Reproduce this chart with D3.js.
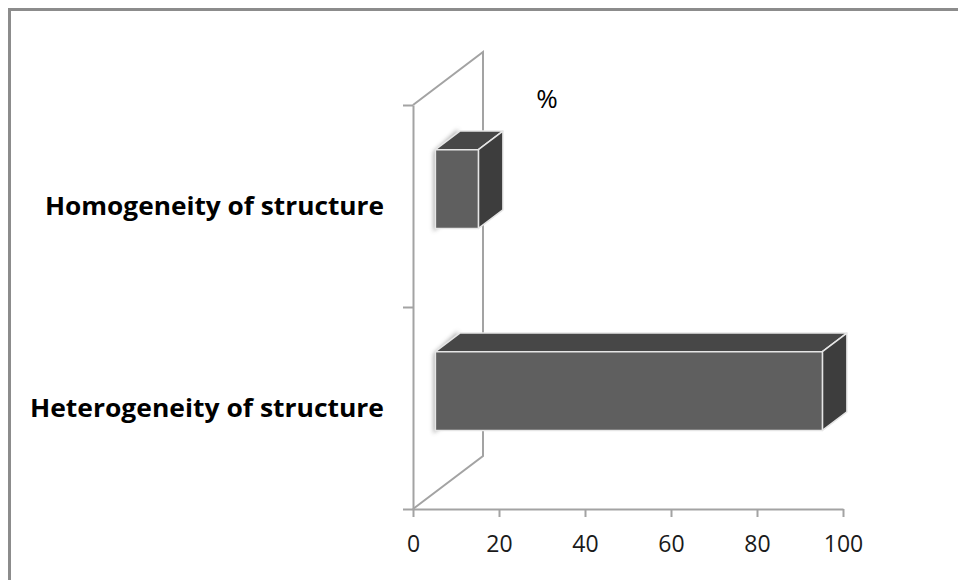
<!DOCTYPE html>
<html>
<head>
<meta charset="utf-8">
<script src="https://cdn.jsdelivr.net/npm/d3@7/dist/d3.min.js"></script>
<style>
  html, body { margin: 0; padding: 0; background: #fff; }
  svg { display: block; }
</style>
</head>
<body>
<svg id="chart" width="958" height="580"></svg>
<script>
// Categories listed top to bottom, with their percentages
const categories = ["Homogeneity of structure", "Heterogeneity of structure"];
const values = [10, 90];
const tickValues = [0, 20, 40, 60, 80, 100];
const unitLabel = "%";

const svg = d3.select("#chart");
const W = 958, H = 580;
const font = "'Open Sans', 'Noto Sans', sans-serif";

// Front plane of the plot and the oblique depth vector of the 3-D box
const plot = { left: 413, right: 843, top: 105, bottom: 509 };
const depth = { dx: 70, dy: -53 };
const barDepth = [0.32, 0.67];   // fraction of the full depth occupied by the bars

const x = d3.scaleLinear().domain([0, 100]).range([plot.left, plot.right]);
const y = d3.scaleBand().domain(categories)
  .range([plot.top, plot.bottom])
  .paddingInner(0.61).paddingOuter(0.305);
const yTicks = d3.scaleLinear().domain([0, categories.length]).range([plot.bottom, plot.top]);

// Outer frame (top and left edges)
svg.append("path")
  .attr("d", `M9.5,${H} L9.5,9.5 L${W},9.5`)
  .attr("fill", "none").attr("stroke", "#8c8c8c").attr("stroke-width", 3);

const defs = svg.append("defs");
defs.append("filter").attr("id", "soft")
  .attr("x", "-50%").attr("y", "-50%").attr("width", "200%").attr("height", "200%")
  .append("feGaussianBlur").attr("stdDeviation", 2.2);

const axisColor = "#a3a3a3";

// Side wall of the 3-D box
const wall = svg.append("g").attr("fill", "none").attr("stroke", axisColor).attr("stroke-width", 2);
wall.append("path").attr("d",
  `M${plot.left},${plot.top} L${plot.left + depth.dx},${plot.top + depth.dy}` +
  ` L${plot.left + depth.dx},${plot.bottom + depth.dy} L${plot.left},${plot.bottom}`);

// Category axis with ticks at band boundaries
svg.append("g")
  .attr("transform", `translate(${plot.left},0)`)
  .call(d3.axisLeft(yTicks).tickValues(d3.range(categories.length + 1)).tickFormat("")
    .tickSize(10).tickSizeOuter(0))
  .call(g => g.selectAll("path, line").attr("stroke", axisColor).attr("stroke-width", 2));

// Value axis
svg.append("g")
  .attr("transform", `translate(0,${plot.bottom})`)
  .call(d3.axisBottom(x).tickValues(tickValues).tickSize(8).tickSizeOuter(0).tickPadding(19))
  .call(g => g.selectAll("path, line").attr("stroke", axisColor).attr("stroke-width", 2))
  .call(g => g.selectAll("text").attr("fill", "#1a1a1a")
    .attr("font-family", font).attr("font-size", 23));

// Bars as oblique boxes
const bars = svg.append("g");
categories.forEach((c, i) => {
  const ox = depth.dx * barDepth[0], oy = depth.dy * barDepth[0];
  const bx = depth.dx * (barDepth[1] - barDepth[0]), by = depth.dy * (barDepth[1] - barDepth[0]);
  const x0 = x(0) + ox, x1 = x(values[i]) + ox;
  const y0 = y(c) + oy, y1 = y(c) + y.bandwidth() + oy;

  // soft shade where the bar meets the wall
  bars.append("path")
    .attr("d", `M${x0 - 2},${y0 + 2} L${x0 + bx - 2},${y0 + by - 2} L${x0 + bx},${y1 + by} L${x0 - 2},${y1 + 3} Z`)
    .attr("fill", "#a8a8a8").attr("filter", "url(#soft)").attr("opacity", 0.9);

  const g = bars.append("g").attr("stroke", "#e6e6e6").attr("stroke-width", 1.5)
    .attr("stroke-linejoin", "round");
  // top face
  g.append("path")
    .attr("d", `M${x0},${y0} L${x0 + bx},${y0 + by} L${x1 + bx},${y0 + by} L${x1},${y0} Z`)
    .attr("fill", "#474747");
  // right face
  g.append("path")
    .attr("d", `M${x1},${y0} L${x1 + bx},${y0 + by} L${x1 + bx},${y1 + by} L${x1},${y1} Z`)
    .attr("fill", "#3d3d3d");
  // front face
  g.append("rect")
    .attr("x", x0).attr("y", y0).attr("width", x1 - x0).attr("height", y1 - y0)
    .attr("fill", "#5f5f5f");
});

// Category labels
const labelWidths = { "Homogeneity of structure": 339, "Heterogeneity of structure": 354 };
svg.append("g").selectAll("text").data(categories).join("text")
  .attr("x", 384)
  .attr("y", d => y(d) + y.bandwidth() / 2 + 9)
  .attr("text-anchor", "end")
  .attr("font-family", font)
  .attr("font-weight", "bold")
  .attr("font-size", 25)
  .attr("fill", "#000")
  .attr("textLength", d => labelWidths[d])
  .attr("lengthAdjust", "spacingAndGlyphs")
  .text(d => d);

// Unit label
svg.append("text")
  .attr("x", 547).attr("y", 108)
  .attr("text-anchor", "middle")
  .attr("font-family", font)
  .attr("font-size", 26)
  .attr("fill", "#000")
  .text(unitLabel);
</script>
</body>
</html>
